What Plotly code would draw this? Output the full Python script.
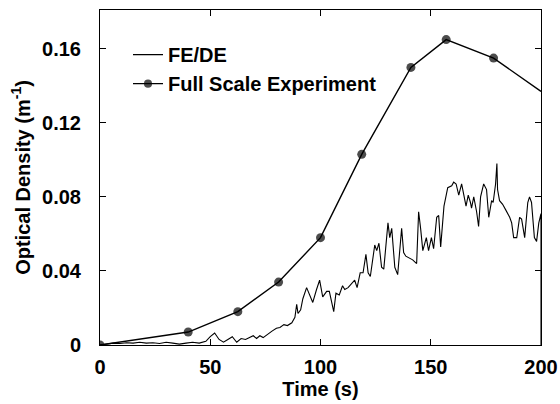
import plotly.graph_objects as go

# FE/DE simulation (time in s, optical density in 1/m)
fede_t = [0, 3, 6, 9, 12, 15, 18, 21, 24, 27, 30, 33, 36, 39, 42, 45, 48, 50, 52, 54,
          56, 58, 60, 62, 64, 66, 68, 69.5, 71, 72.5, 74, 76, 78, 80, 81.6, 83.4, 85, 87,
          88.4, 89.2, 89.8, 91, 92, 93.7, 95, 96.5, 98.2, 99.6, 101, 102.8, 104, 105, 106,
          107, 108.5, 110, 111, 112.5, 114, 115.5, 116.6, 118, 119.3, 120.6, 121.6, 122.6,
          124.6, 125.5, 126.5, 127.7, 128.7, 129.6, 130.6, 131.4, 132.3, 133.7, 135, 136.8,
          137.7, 138.7, 140.5, 141.8, 143.6, 144.5, 145.4, 146.4, 148, 149, 150.3, 151.3,
          152.7, 153.6, 154.5, 156, 157.7, 159.5, 160.4, 161.5, 162.7, 164, 166, 167, 168,
          168.5, 169.5, 170.8, 171.7, 172.6, 174, 175.3, 176.3, 177.6, 178.3, 179.4, 180,
          180.3, 181.2, 182.6, 184, 185, 185.8, 186.7, 187.6, 189, 190.3, 191.2, 192.6, 194,
          194.8, 195.7, 197, 198, 199, 200, 200]
fede_od = [0.000, 0.0005, 0.001, 0.0008, 0.0012, 0.001, 0.0015, 0.001, 0.0012, 0.0008,
           0.0015, 0.001, 0.0005, 0.001, 0.0015, 0.001, 0.002, 0.0045, 0.0065, 0.003,
           0.0015, 0.003, 0.0045, 0.0015, 0.0035, 0.003, 0.004, 0.005, 0.0035, 0.005,
           0.004, 0.006, 0.0075, 0.009, 0.0095, 0.011, 0.0105, 0.012, 0.015, 0.022, 0.017,
           0.019, 0.025, 0.031, 0.027, 0.023, 0.030, 0.035, 0.026, 0.029, 0.029, 0.024,
           0.018, 0.028, 0.027, 0.032, 0.030, 0.031, 0.033, 0.035, 0.031, 0.039, 0.039,
           0.049, 0.039, 0.037, 0.054, 0.051, 0.055, 0.042, 0.041, 0.053, 0.066, 0.058,
           0.063, 0.042, 0.038, 0.063, 0.050, 0.048, 0.047, 0.046, 0.044, 0.072, 0.063,
           0.051, 0.058, 0.051, 0.058, 0.052, 0.069, 0.070, 0.053, 0.075, 0.085, 0.086,
           0.088, 0.087, 0.081, 0.087, 0.075, 0.081, 0.077, 0.074, 0.080, 0.072, 0.064,
           0.080, 0.087, 0.084, 0.069, 0.078, 0.077, 0.087, 0.098, 0.084, 0.078, 0.076,
           0.073, 0.071, 0.069, 0.066, 0.058, 0.058, 0.069, 0.068, 0.058, 0.077, 0.080,
           0.077, 0.058, 0.056, 0.066, 0.071, 0.0]

# Full scale experiment
exp_t = [0, 40, 62.5, 81, 100, 118.7, 141, 157, 178.5, 200]
exp_od = [0.0, 0.007, 0.018, 0.034, 0.058, 0.103, 0.150, 0.165, 0.155, 0.137]
exp_marker_size = [9, 9, 9, 9, 9, 9, 9, 9, 9, 0]

x_ticks = [0, 50, 100, 150, 200]
y_ticks = [0, 0.04, 0.08, 0.12, 0.16]
y_ticktext = ["0", "0.04", "0.08", "0.12", "0.16"]

FONT = "Liberation Sans, Arial, sans-serif"

fig = go.Figure()
fig.add_trace(go.Scatter(
    x=fede_t, y=fede_od, mode="lines", name="FE/DE",
    line=dict(color="black", width=1.1),
))
fig.add_trace(go.Scatter(
    x=exp_t, y=exp_od, mode="lines+markers", name="Full Scale Experiment",
    line=dict(color="black", width=1.4),
    marker=dict(color="black", size=exp_marker_size, symbol="circle",
                line=dict(width=0, color="black")),
))

axis_common = dict(
    showline=True, linecolor="black", linewidth=1, mirror="ticks",
    ticks="inside", ticklen=6, tickcolor="black", tickwidth=1,
    showgrid=False, zeroline=False, automargin=False,
    tickfont=dict(family=FONT, size=20, color="black", weight="bold"),
)

fig.update_layout(
    width=560, height=404,
    margin=dict(l=100, r=19, t=10, b=59),
    paper_bgcolor="white", plot_bgcolor="white",
    font=dict(family=FONT, color="black"),
    xaxis=dict(
        range=[0, 200], tickvals=x_ticks,
        title=dict(text="<b>Time (s)</b>", font=dict(family=FONT, size=20, color="black"), standoff=4),
        ticklabelstandoff=4,
        **axis_common,
    ),
    yaxis=dict(
        range=[0, 0.181], tickvals=y_ticks, ticktext=y_ticktext,
        title=dict(text="<b>Optical Density (m<sup>-1</sup>)</b>", font=dict(family=FONT, size=20, color="black"), standoff=6),
        ticklabelstandoff=14,
        **axis_common,
    ),
    showlegend=True,
    legend=dict(
        x=0.0635, y=0.925, xanchor="left", yanchor="top",
        bgcolor="rgba(0,0,0,0)", borderwidth=0,
        font=dict(family=FONT, size=20, color="black", weight="bold"),
        tracegroupgap=0,
    ),
)

fig.write_html("out.html")
